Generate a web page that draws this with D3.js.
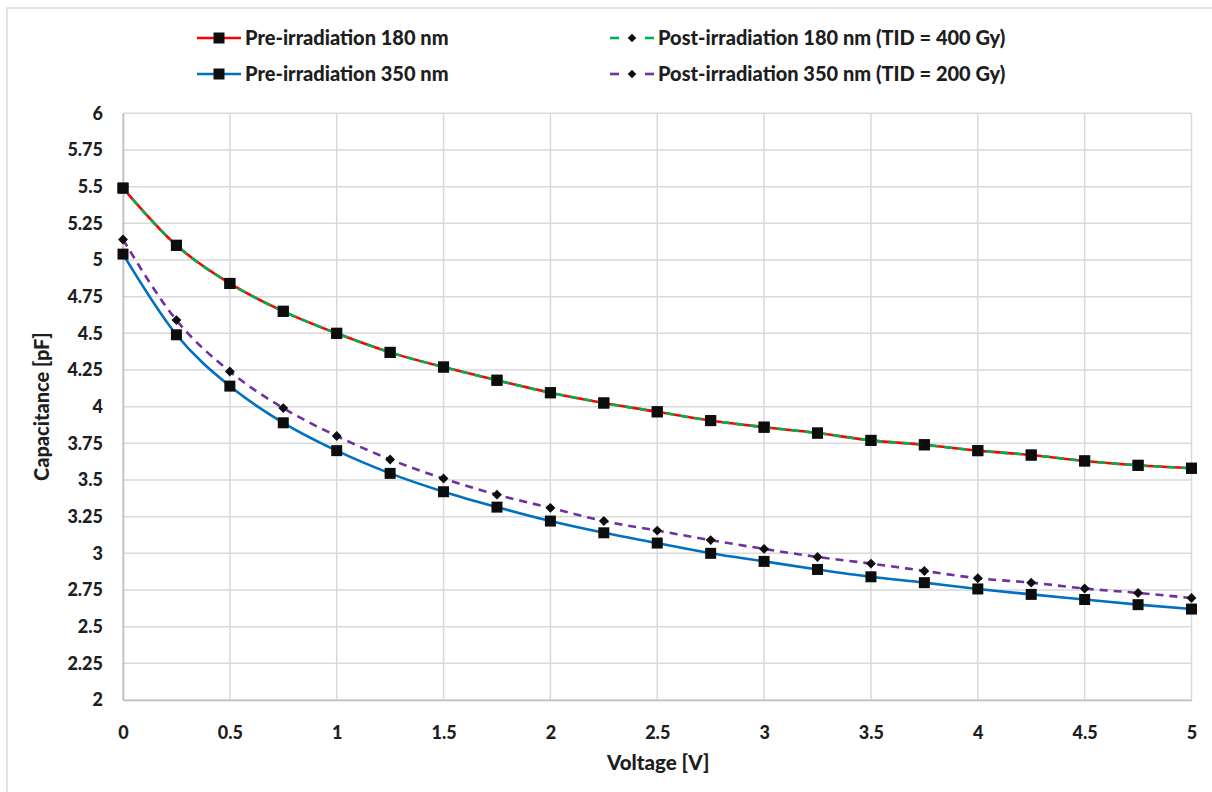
<!DOCTYPE html>
<html>
<head>
<meta charset="utf-8">
<script src="https://cdn.jsdelivr.net/npm/d3@7"></script>
<style>
  html, body { margin: 0; padding: 0; background: #fff; }
  svg text { font-family: Lato, "Open Sans", "Liberation Sans", sans-serif; font-weight: 900; fill: #1e1e1e; }
</style>
</head>
<body>
<svg id="chart" width="1212" height="792"></svg>
<script>
const voltage = [0, 0.25, 0.5, 0.75, 1, 1.25, 1.5, 1.75, 2, 2.25, 2.5, 2.75, 3, 3.25, 3.5, 3.75, 4, 4.25, 4.5, 4.75, 5];
const pre180 = [5.49, 5.10, 4.84, 4.65, 4.50, 4.37, 4.27, 4.18, 4.095, 4.025, 3.965, 3.905, 3.86, 3.82, 3.77, 3.74, 3.70, 3.67, 3.63, 3.60, 3.58];
const post180 = [5.49, 5.10, 4.84, 4.65, 4.50, 4.37, 4.27, 4.18, 4.095, 4.025, 3.965, 3.905, 3.86, 3.82, 3.77, 3.74, 3.70, 3.67, 3.63, 3.60, 3.58];
const pre350 = [5.04, 4.49, 4.14, 3.89, 3.70, 3.545, 3.42, 3.315, 3.22, 3.14, 3.07, 3.00, 2.945, 2.89, 2.84, 2.80, 2.757, 2.72, 2.685, 2.65, 2.62];
const post350 = [5.14, 4.59, 4.24, 3.99, 3.80, 3.64, 3.51, 3.40, 3.31, 3.22, 3.155, 3.09, 3.03, 2.975, 2.93, 2.88, 2.83, 2.80, 2.76, 2.73, 2.695];
const xTicks = [0, 0.5, 1, 1.5, 2, 2.5, 3, 3.5, 4, 4.5, 5];
const yTicks = [2, 2.25, 2.5, 2.75, 3, 3.25, 3.5, 3.75, 4, 4.25, 4.5, 4.75, 5, 5.25, 5.5, 5.75, 6];
const seriesNames = ["Pre-irradiation 180 nm", "Post-irradiation 180 nm (TID = 400 Gy)", "Pre-irradiation 350 nm", "Post-irradiation 350 nm (TID = 200 Gy)"];

const series = [
  { name: seriesNames[0], values: pre180, color: "#FF0000", dash: null, marker: "square" },
  { name: seriesNames[1], values: post180, color: "#00B050", dash: "8,6", marker: "diamond" },
  { name: seriesNames[2], values: pre350, color: "#0070C0", dash: null, marker: "square" },
  { name: seriesNames[3], values: post350, color: "#7030A0", dash: "8,6", marker: "diamond" }
];

const svg = d3.select("#chart");
const plotL = 123, plotR = 1191.5, plotT = 113.3, plotB = 700;

// outer chart border
svg.append("rect").attr("x", 7).attr("y", 8).attr("width", 1230).attr("height", 800)
  .attr("fill", "#fff").attr("stroke", "#d9d9d9").attr("stroke-width", 1.5);

const x = d3.scaleLinear().domain([0, 5]).range([plotL, plotR]);
const y = d3.scaleLinear().domain([2, 6]).range([plotB, plotT]);

// gridlines
const grid = svg.append("g");
grid.selectAll("line.h").data(yTicks).enter().append("line")
  .attr("x1", plotL).attr("x2", plotR)
  .attr("y1", d => y(d)).attr("y2", d => y(d))
  .attr("stroke", "#d9d9d9").attr("stroke-width", 1.5);
grid.selectAll("line.v").data(xTicks).enter().append("line")
  .attr("y1", plotT).attr("y2", plotB)
  .attr("x1", d => x(d)).attr("x2", d => x(d))
  .attr("stroke", "#d9d9d9").attr("stroke-width", 1.5);

// axes
const xAxis = d3.axisBottom(x).tickValues(xTicks).tickSize(0).tickPadding(26).tickFormat(d3.format("~g"));
const gx = svg.append("g").attr("transform", `translate(0,${plotB})`).call(xAxis);
gx.select(".domain").attr("stroke", "#bfbfbf").attr("stroke-width", 1.5);
gx.selectAll("text").style("font-size", "18px").attr("fill", "#1e1e1e");

const yAxis = d3.axisLeft(y).tickValues(yTicks).tickSize(0).tickPadding(20).tickFormat(d3.format("~g"));
const gy = svg.append("g").attr("transform", `translate(${plotL},0)`).call(yAxis);
gy.select(".domain").attr("stroke", "#bfbfbf").attr("stroke-width", 1.5);
gy.selectAll("text").style("font-size", "18px").attr("fill", "#1e1e1e");

// axis titles
svg.append("text").attr("x", (plotL + plotR) / 2 + 1).attr("y", 770)
  .attr("text-anchor", "middle").style("font-size", "20.5px").text("Voltage [V]");
svg.append("text").attr("transform", `translate(49,${(plotT + plotB) / 2}) rotate(-90)`)
  .attr("text-anchor", "middle").style("font-size", "20px").text("Capacitance [pF]");

const line = d3.line().x((d, i) => x(voltage[i])).y(d => y(d)).curve(d3.curveMonotoneX);

const sq = d3.symbol().type(d3.symbolSquare).size(121);
const dm = d3.symbol().type(d3.symbolSquare).size(49);

function markerTransform(px, py, kind) {
  return kind === "square" ? `translate(${px},${py})` : `translate(${px},${py}) rotate(45)`;
}

function drawSeries(s) {
  const g = svg.append("g");
  g.append("path").datum(s.values).attr("d", line)
    .attr("fill", "none").attr("stroke", s.color).attr("stroke-width", 2.6)
    .attr("stroke-dasharray", s.dash);
  g.selectAll("path.m").data(s.values).enter().append("path")
    .attr("class", "m")
    .attr("transform", (d, i) => markerTransform(x(voltage[i]), y(d), s.marker))
    .attr("d", s.marker === "square" ? sq : dm)
    .attr("fill", "#0d0d0d");
}
drawSeries(series[0]);
drawSeries(series[1]);
// pre180 squares on top of the green dash
svg.append("g").selectAll("path").data(pre180).enter().append("path")
  .attr("transform", (d, i) => markerTransform(x(voltage[i]), y(d), "square"))
  .attr("d", sq).attr("fill", "#0d0d0d");
drawSeries(series[3]);
drawSeries(series[2]);

// legend
const legendPos = [
  { x: 197, y: 38 }, { x: 610, y: 38 }, { x: 197, y: 74 }, { x: 610, y: 74 }
];
series.forEach((s, i) => {
  const p = legendPos[i];
  const g = svg.append("g").attr("transform", `translate(${p.x},${p.y})`);
  if (s.dash) {
    g.append("line").attr("x1", 0).attr("x2", 9).attr("y1", 0).attr("y2", 0)
      .attr("stroke", s.color).attr("stroke-width", 2.6);
    g.append("line").attr("x1", 35).attr("x2", 44).attr("y1", 0).attr("y2", 0)
      .attr("stroke", s.color).attr("stroke-width", 2.6);
    g.append("path").attr("transform", "translate(22,0) rotate(45)")
      .attr("d", d3.symbol().type(d3.symbolSquare).size(36)).attr("fill", "#0d0d0d");
  } else {
    g.append("line").attr("x1", 0).attr("x2", 44).attr("y1", 0).attr("y2", 0)
      .attr("stroke", s.color).attr("stroke-width", 2.6);
    g.append("path").attr("transform", "translate(22,0)").attr("d", sq).attr("fill", "#0d0d0d");
  }
  g.append("text").attr("x", 48).attr("y", 0).attr("dy", "0.35em")
    .style("font-size", "20px").text(s.name);
});
</script>
</body>
</html>
